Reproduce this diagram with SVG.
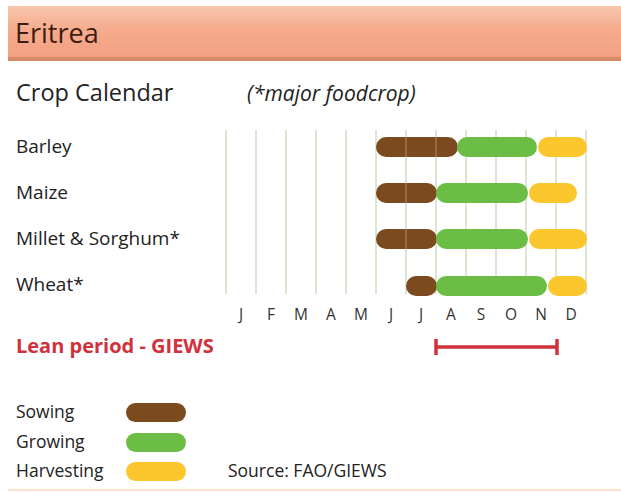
<svg xmlns="http://www.w3.org/2000/svg" width="621" height="493" viewBox="0 0 621 493">
<defs>
<linearGradient id="hdr" x1="0" y1="0" x2="0" y2="1">
<stop offset="0" stop-color="#f8c6ad"/>
<stop offset="0.45" stop-color="#f6ab8c"/>
<stop offset="1" stop-color="#f3a082"/>
</linearGradient>
</defs>
<style>
text{font-family:"Open Sans","Liberation Sans",sans-serif;fill:#222}
.lbl{font-size:19px}
.leg{font-size:17.5px}
.mon{font-size:15.5px;fill:#333;text-anchor:middle}
.grid{stroke:#dce6d3;stroke-width:2}
.sow{fill:#7b4a1f}
.grow{fill:#6cbd45}
.harv{fill:#fcc62d}
.thru{stroke:#ffffff;stroke-opacity:0.18;stroke-width:2}
.lean{stroke:#d0313c;stroke-width:3.5}
</style>
<rect x="0" y="0" width="621" height="493" fill="#ffffff"/>
<g id="header">
<rect x="8" y="6" width="613" height="53" fill="url(#hdr)"/>
<rect x="8" y="57" width="613" height="4" fill="#d58a68"/>
<text x="15" y="43" style="font-size:27px;fill:#3b1d14">Eritrea</text>
</g>
<g id="titles">
<text x="16" y="101" style="font-size:23.5px">Crop Calendar</text>
<text x="247" y="101" style="font-size:21px;font-style:italic">(*major foodcrop)</text>
</g>
<g id="grid">
<line class="grid" x1="226" y1="130" x2="226" y2="294"/>
<line class="grid" x1="256" y1="130" x2="256" y2="294"/>
<line class="grid" x1="286" y1="130" x2="286" y2="294"/>
<line class="grid" x1="316" y1="130" x2="316" y2="294"/>
<line class="grid" x1="346" y1="130" x2="346" y2="294"/>
<line class="grid" x1="376" y1="130" x2="376" y2="294"/>
<line class="grid" x1="406" y1="130" x2="406" y2="294"/>
<line class="grid" x1="436" y1="130" x2="436" y2="294"/>
<line class="grid" x1="466" y1="130" x2="466" y2="294"/>
<line class="grid" x1="496" y1="130" x2="496" y2="294"/>
<line class="grid" x1="526" y1="130" x2="526" y2="294"/>
<line class="grid" x1="556" y1="130" x2="556" y2="294"/>
<line class="grid" x1="586" y1="130" x2="586" y2="294"/>
</g>
<g id="barley">
<text class="lbl" x="16" y="153">Barley</text>
<rect class="sow" x="376" y="137" width="82" height="20" rx="10"/>
<line class="thru" x1="406" y1="137" x2="406" y2="157"/>
<line class="thru" x1="436" y1="137" x2="436" y2="157"/>
<rect class="grow" x="457" y="137" width="80" height="20" rx="10"/>
<rect class="harv" x="538" y="137" width="49" height="20" rx="10"/>
</g>
<g id="maize">
<text class="lbl" x="16" y="199">Maize</text>
<rect class="sow" x="376" y="183" width="61" height="20" rx="10"/>
<line class="thru" x1="406" y1="183" x2="406" y2="203"/>
<rect class="grow" x="436" y="183" width="92" height="20" rx="10"/>
<rect class="harv" x="529" y="183" width="48" height="20" rx="10"/>
</g>
<g id="millet">
<text class="lbl" x="16" y="245">Millet &amp; Sorghum*</text>
<rect class="sow" x="376" y="229" width="61" height="20" rx="10"/>
<line class="thru" x1="406" y1="229" x2="406" y2="249"/>
<rect class="grow" x="436" y="229" width="92" height="20" rx="10"/>
<rect class="harv" x="529" y="229" width="58" height="20" rx="10"/>
</g>
<g id="wheat">
<text class="lbl" x="16" y="291">Wheat*</text>
<rect class="sow" x="406" y="276" width="31" height="20" rx="10"/>
<rect class="grow" x="436" y="276" width="111" height="20" rx="10"/>
<rect class="harv" x="548" y="276" width="39" height="20" rx="10"/>
</g>
<g id="months">
<text class="mon" x="241" y="320">J</text>
<text class="mon" x="271" y="320">F</text>
<text class="mon" x="301" y="320">M</text>
<text class="mon" x="331" y="320">A</text>
<text class="mon" x="361" y="320">M</text>
<text class="mon" x="391" y="320">J</text>
<text class="mon" x="421" y="320">J</text>
<text class="mon" x="451" y="320">A</text>
<text class="mon" x="481" y="320">S</text>
<text class="mon" x="511" y="320">O</text>
<text class="mon" x="541" y="320">N</text>
<text class="mon" x="571" y="320">D</text>
</g>
<g id="lean">
<text x="16" y="353" style="font-size:20px;font-weight:bold;fill:#d0313c">Lean period - GIEWS</text>
<line class="lean" x1="436" y1="347" x2="557" y2="347"/>
<line class="lean" x1="436" y1="339" x2="436" y2="355"/>
<line class="lean" x1="557" y1="339" x2="557" y2="355"/>
</g>
<g id="legend">
<text class="leg" x="16" y="418">Sowing</text>
<rect class="sow" x="126" y="403" width="60" height="19" rx="9.5"/>
<text class="leg" x="16" y="448">Growing</text>
<rect class="grow" x="126" y="433" width="60" height="19" rx="9.5"/>
<text class="leg" x="16" y="477">Harvesting</text>
<rect class="harv" x="126" y="462" width="60" height="19" rx="9.5"/>
<text x="228" y="477" style="font-size:17.5px">Source: FAO/GIEWS</text>
</g>
<rect x="8" y="489" width="613" height="2" fill="#fbe3d3"/>
</svg>
